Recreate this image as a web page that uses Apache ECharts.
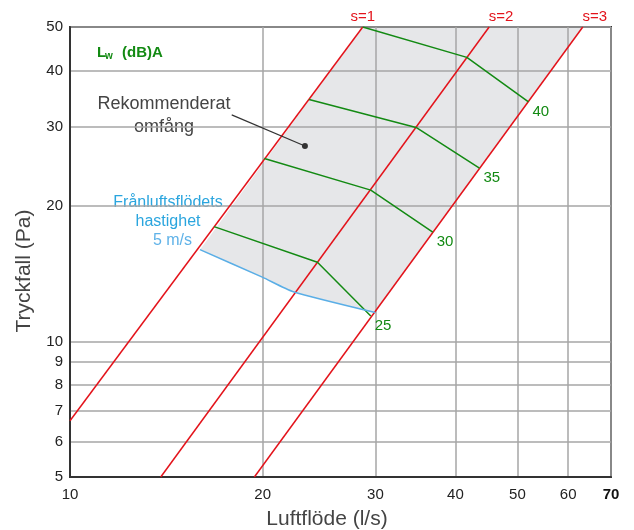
<!DOCTYPE html>
<html>
<head>
<meta charset="utf-8">
<script src="https://cdn.jsdelivr.net/npm/echarts@6/dist/echarts.min.js"></script>
<style>
  html, body { margin: 0; padding: 0; background: #fff; }
  #chart { width: 634px; height: 530px; }
</style>
</head>
<body>
<div id="chart"></div>
<script>
// axis ticks
const xTicks = [10, 20, 30, 40, 50, 60, 70];
const yTicks = [5, 6, 7, 8, 9, 10, 20, 30, 40, 50];

// system curves s=1..3 (bottom point, top point)
const s1Line = [[10, 6.67], [28.66, 50]];
const s2Line = [[13.86, 5], [45.16, 50]];
const s3Line = [[19.41, 5], [63.24, 50]];

// sound level curves Lw (dB)A, from s=1 to s=3
const lw25 = [[16.79, 18.0], [24.35, 15.0], [29.5, 11.4]];
const lw30 = [[20.12, 25.5], [29.5, 21.7], [36.87, 17.5]];
const lw35 = [[23.63, 34.5], [34.72, 29.9], [43.61, 24.3]];
const lw40 = [[28.66, 50], [41.68, 42.8], [52.02, 34.1]];

// exhaust air velocity 5 m/s
const speed5 = [[15.96, 16.0], [19.97, 13.9], [22.33, 12.9], [29.97, 11.6]];

// recommended range outline
const rangeArea = [[15.96, 16.0], [28.66, 50], [63.24, 50], [29.97, 11.6], [22.33, 12.9], [19.97, 13.9]];

// pointer for "Rekommenderat omfång"
const pointer = [[17.89, 31.9], [23.28, 27.2]];

const RED = '#e3131b';
const GREEN = '#138a13';
const FONT = 'Liberation Sans, Arial, sans-serif';

const chart = echarts.init(document.getElementById('chart'));

function redLine(name, data, offset) {
  return {
    name: name,
    type: 'line',
    data: data,
    symbol: 'none',
    lineStyle: { color: RED, width: 1.5 },
    endLabel: {
      show: true,
      formatter: name,
      distance: 0,
      offset: offset,
      align: 'center',
      verticalAlign: 'middle',
      color: RED,
      fontSize: 15,
      fontFamily: FONT
    }
  }
}

function greenLine(label, data) {
  return {
    name: 'Lw ' + label,
    type: 'line',
    data: data,
    symbol: 'none',
    lineStyle: { color: GREEN, width: 1.5 },
    endLabel: {
      show: true,
      formatter: label,
      distance: 0,
      offset: [4, 10],
      align: 'left',
      verticalAlign: 'middle',
      color: GREEN,
      fontSize: 15,
      fontFamily: FONT
    }
  }
}

chart.setOption({
  animation: false,
  textStyle: { fontFamily: FONT },
  grid: {
    left: 70, right: 23, top: 27, bottom: 53,
    show: true,
    borderColor: '#333',
    borderWidth: 2,
    backgroundColor: 'transparent'
  },
  xAxis: {
    type: 'log',
    logBase: 10,
    min: 10,
    max: 70,
    axisLine: { lineStyle: { color: '#333', width: 2 } },
    axisTick: { show: false, customValues: xTicks },
    axisLabel: {
      customValues: xTicks,
      margin: 10,
      fontSize: 15,
      color: '#222',
      hideOverlap: false,
      formatter: v => (v === 70 ? '{b|70}' : String(v)),
      rich: { b: { fontWeight: 'bold', fontSize: 15, color: '#111' } }
    },
    splitLine: { show: true, lineStyle: { color: '#a6a6a6', width: 1.5 } }
  },
  yAxis: {
    type: 'log',
    logBase: 10,
    min: 5,
    max: 50,
    axisLine: { lineStyle: { color: '#333', width: 2 } },
    axisTick: { show: false, customValues: yTicks },
    axisLabel: {
      customValues: yTicks,
      margin: 7,
      fontSize: 15,
      color: '#222',
      hideOverlap: false
    },
    splitLine: { show: true, lineStyle: { color: '#a6a6a6', width: 1.5 } }
  },
  series: [
    {
      name: 'Rekommenderat omfång',
      type: 'custom',
      z: -1,
      data: rangeArea,
      encode: { x: 0, y: 1 },
      renderItem: (params, api) => {
        if (params.dataIndex !== 0) return;
        return {
          type: 'polygon',
          shape: { points: rangeArea.map(p => api.coord(p)) },
          style: { fill: '#e6e7e9', stroke: null }
        };
      }
    },
    redLine('s=1', s1Line, [0, -10]),
    redLine('s=2', s2Line, [12, -10]),
    redLine('s=3', s3Line, [12, -10]),
    greenLine('25', lw25),
    greenLine('30', lw30),
    greenLine('35', lw35),
    greenLine('40', lw40),
    {
      name: '5 m/s',
      type: 'line',
      data: speed5,
      symbol: 'none',
      smooth: 0.2,
      lineStyle: { color: '#5aaee6', width: 1.5 }
    },
    {
      name: 'pointer',
      type: 'line',
      data: [
        { value: pointer[0], symbol: 'none' },
        { value: pointer[1], symbol: 'circle', symbolSize: 6 }
      ],
      showSymbol: true,
      itemStyle: { color: '#333' },
      lineStyle: { color: '#333', width: 1.2 }
    }
  ],
  graphic: [
    { type: 'text', left: 97, top: 45, style: { text: 'L', fontSize: 15, fontWeight: 'bold', fill: GREEN, fontFamily: FONT } },
    { type: 'text', left: 105, top: 51, style: { text: 'w', fontSize: 10, fontWeight: 'bold', fill: GREEN, fontFamily: FONT } },
    { type: 'text', left: 122, top: 45, style: { text: '(dB)A', fontSize: 15, fontWeight: 'bold', fill: GREEN, fontFamily: FONT } },
    { type: 'text', x: 164, y: 104, style: { text: 'Rekommenderat', fontSize: 18, fill: '#444', align: 'center', verticalAlign: 'middle', fontFamily: FONT } },
    { type: 'text', x: 164, y: 127, style: { text: 'omfång', fontSize: 18, fill: '#444', align: 'center', verticalAlign: 'middle', fontFamily: FONT } },
    { type: 'text', x: 168, y: 203, style: { text: 'Frånluftsflödets', fontSize: 16, fill: '#2aa5de', align: 'center', verticalAlign: 'middle', fontFamily: FONT } },
    { type: 'text', x: 168, y: 222, style: { text: 'hastighet', fontSize: 16, fill: '#2aa5de', align: 'center', verticalAlign: 'middle', fontFamily: FONT } },
    { type: 'text', x: 192, y: 241, style: { text: '5 m/s', fontSize: 16, fill: '#5fb2e8', align: 'right', verticalAlign: 'middle', fontFamily: FONT } },
    { type: 'text', x: 327, y: 519, style: { text: 'Luftflöde (l/s)', fontSize: 21, fill: '#444', align: 'center', verticalAlign: 'middle', fontFamily: FONT } },
    { type: 'text', x: 24, y: 271, rotation: Math.PI / 2, style: { text: 'Tryckfall (Pa)', fontSize: 21, fill: '#444', align: 'center', verticalAlign: 'middle', fontFamily: FONT } }
  ]
});
</script>
</body>
</html>
